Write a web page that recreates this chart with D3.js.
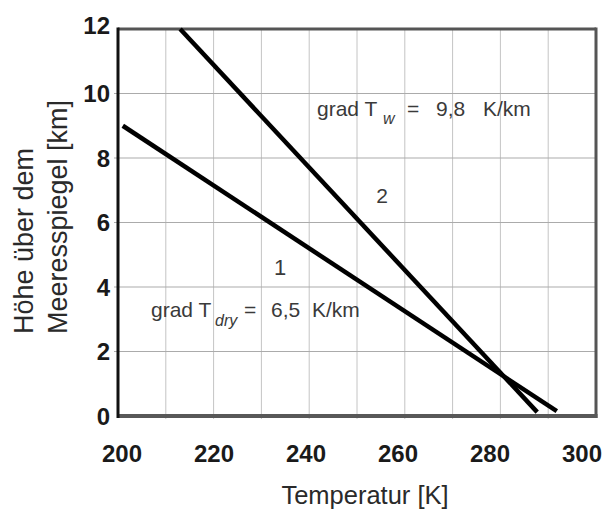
<!DOCTYPE html>
<html>
<head>
<meta charset="utf-8">
<script src="https://cdn.jsdelivr.net/npm/d3@7"></script>
<style>
  html, body { margin: 0; padding: 0; background: #fff; }
  svg { display: block; font-family: "Liberation Sans", Arial, sans-serif; }
</style>
</head>
<body>
<svg id="chart" width="611" height="510"></svg>
<script>
// ---- data ----
const xTicks = [200, 220, 240, 260, 280, 300];
const yTicks = [0, 2, 4, 6, 8, 10, 12];
const xGrid = [210, 220, 230, 240, 250, 260, 270, 280, 290];
const yGrid = [2, 4, 6, 8, 10];
const dryTemp = [201, 291.8];
const dryHeight = [9.0, 0.15];
const wetTemp = [213, 287.7];
const wetHeight = [12, 0.12];
const xTitle = "Temperatur [K]";
const yTitle1 = "Höhe über dem";
const yTitle2 = "Meeresspiegel [km]";

(function () {
const svg = d3.select("#chart");
const mL = 118, mR = 596, mT = 29, mB = 416;
const x = d3.scaleLinear().domain([200, 300]).range([mL, mR]);
const y = d3.scaleLinear().domain([0, 12]).range([mB, mT]);
const xLabelPos = d3.scaleLinear().domain([200, 300]).range([122, 582]);

// grid
svg.append("g").selectAll("line").data(xGrid).join("line")
  .attr("x1", d => x(d)).attr("x2", d => x(d))
  .attr("y1", mT).attr("y2", mB + 3)
  .attr("stroke", "#c4c4c4").attr("stroke-width", 1);
svg.append("g").selectAll("line").data(yGrid).join("line")
  .attr("x1", mL - 4).attr("x2", mR)
  .attr("y1", d => y(d)).attr("y2", d => y(d))
  .attr("stroke", "#ababab").attr("stroke-width", 1.2);

// frame
svg.append("line").attr("x1", mL).attr("x2", mR).attr("y1", mT).attr("y2", mT)
  .attr("stroke", "#555").attr("stroke-width", 3);
svg.append("line").attr("x1", mR).attr("x2", mR).attr("y1", mT - 1.5).attr("y2", mB + 2)
  .attr("stroke", "#555").attr("stroke-width", 3);
svg.append("line").attr("x1", mL).attr("x2", mR + 1.5).attr("y1", mB).attr("y2", mB)
  .attr("stroke", "#585858").attr("stroke-width", 4);
svg.append("line").attr("x1", mL).attr("x2", mL).attr("y1", mT - 1.5).attr("y2", mB + 2)
  .attr("stroke", "#111").attr("stroke-width", 3);

// lines
const line = d3.line().x(d => x(d[0])).y(d => y(d[1]));
[[dryTemp, dryHeight], [wetTemp, wetHeight]].forEach(([t, h]) => {
  svg.append("path").datum(t.map((v, i) => [v, h[i]]))
    .attr("d", line).attr("fill", "none")
    .attr("stroke", "#000").attr("stroke-width", 4.5);
});

// tick labels
svg.append("g").selectAll("text").data(xTicks).join("text")
  .attr("x", d => xLabelPos(d)).attr("y", 462)
  .attr("text-anchor", "middle")
  .attr("font-size", 24).attr("font-weight", "bold").attr("fill", "#1a1a1a")
  .text(d => d);
svg.append("g").selectAll("text").data(yTicks).join("text")
  .attr("x", 110).attr("y", d => y(d) + 8.5 - (d === 12 ? 4 : 0))
  .attr("text-anchor", "end")
  .attr("font-size", 24).attr("font-weight", "bold").attr("fill", "#1a1a1a")
  .text(d => d);

// axis titles
svg.append("text").attr("x", 365).attr("y", 504).attr("text-anchor", "middle")
  .attr("font-size", 25.5).attr("fill", "#2a2a2a").text(xTitle);
svg.append("text").attr("transform", "translate(33,334) rotate(-90)")
  .attr("font-size", 27).attr("fill", "#2a2a2a").text(yTitle1);
svg.append("text").attr("transform", "translate(67,334) rotate(-90)")
  .attr("font-size", 27).attr("fill", "#2a2a2a").text(yTitle2);

// annotations
const annColor = "#3a3a3a";
const w = svg.append("text").attr("font-size", 21).attr("fill", annColor);
w.append("tspan").attr("x", 317).attr("y", 116).text("grad T");
w.append("tspan").attr("x", 383).attr("y", 124).attr("font-style", "italic").attr("font-size", 16).text("w");
w.append("tspan").attr("x", 407).attr("y", 116).text("=");
w.append("tspan").attr("x", 436).attr("y", 116).text("9,8");
w.append("tspan").attr("x", 483).attr("y", 116).text("K/km");

const dr = svg.append("text").attr("font-size", 21).attr("fill", annColor);
dr.append("tspan").attr("x", 151).attr("y", 317).text("grad T");
dr.append("tspan").attr("x", 215).attr("y", 326).attr("font-style", "italic").attr("font-size", 16).text("dry");
dr.append("tspan").attr("x", 244).attr("y", 317).text("=");
dr.append("tspan").attr("x", 271).attr("y", 317).text("6,5");
dr.append("tspan").attr("x", 312).attr("y", 317).text("K/km");

svg.append("text").attr("x", 280).attr("y", 275).attr("text-anchor", "middle")
  .attr("font-size", 22).attr("fill", annColor).text("1");
svg.append("text").attr("x", 382).attr("y", 203).attr("text-anchor", "middle")
  .attr("font-size", 21).attr("fill", annColor).text("2");
})();
</script>
</body>
</html>
